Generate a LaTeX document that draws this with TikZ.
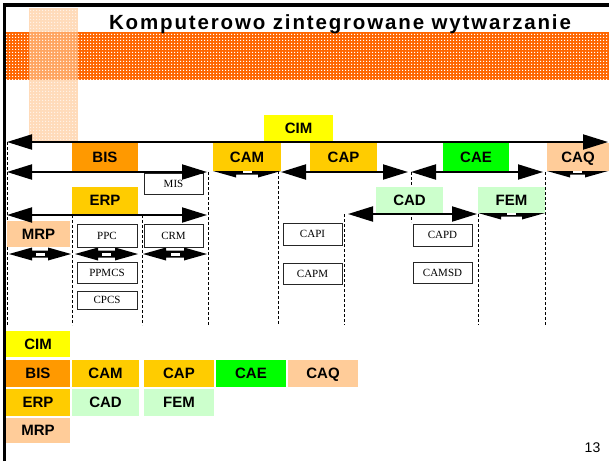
\documentclass[tikz,border=0pt]{standalone}
\usepackage{fontspec}
\setmainfont{Liberation Serif}
\newfontfamily\lsans{Liberation Sans}
\newfontfamily\ltitle[LetterSpace=9]{Liberation Sans}
\usetikzlibrary{arrows.meta,patterns}
\pgfdeclarepatternformonly{whitedots}{\pgfqpoint{0pt}{0pt}}{\pgfqpoint{3pt}{3pt}}{\pgfqpoint{3pt}{3pt}}{%
  \pgfpathrectangle{\pgfqpoint{0pt}{0pt}}{\pgfqpoint{1.5pt}{1.5pt}}%
  \pgfusepath{fill}}
\definecolor{cimy}{HTML}{FFFF00}
\definecolor{bisor}{HTML}{FF9900}
\definecolor{camy}{HTML}{FFCC00}
\definecolor{caeg}{HTML}{00FF00}
\definecolor{caqp}{HTML}{FFCC99}
\definecolor{cadg}{HTML}{CCFFCC}
\definecolor{bandor}{HTML}{FF6600}
\definecolor{bandlt}{HTML}{FFC896}
\tikzset{
  lbl/.style={inner sep=0pt, font=\lsans\bfseries\fontsize{15}{15}\selectfont, text=black, text height=10.7pt, text depth=0pt},
  sbox/.style={draw=black!85, line width=0.8pt, fill=white, inner sep=0pt, font=\fontsize{11}{11}\selectfont, text height=7.3pt, text depth=0pt},
  bigarrow/.style={line width=2pt, {Triangle[length=25pt,width=15pt]}-{Triangle[length=25pt,width=15pt]}},
  dashline/.style={line width=0.7pt, dash pattern=on 3pt off 2pt},
  pics/blockdbl/.style={code={
    \fill[black] (0,0) -- (23,-6.5) -- (23,-3.5) -- (#1-23,-3.5) -- (#1-23,-6.5) -- (#1,0)
      -- (#1-23,6.5) -- (#1-23,3.5) -- (23,3.5) -- (23,6.5) -- cycle;
    \fill[white] (#1/2-4.5,-1.5) rectangle (#1/2+4.5,1.5);
  }},
}
\begin{document}
\begin{tikzpicture}[x=1pt,y=-1pt]
\useasboundingbox (0,0) rectangle (609,461);
\fill[white] (0,0) rectangle (609,461);
% decorative bands
\fill[bandor] (5,32) rectangle (609,80);
\fill[pattern=whitedots, pattern color=white] (5,32) rectangle (609,80);
\begin{scope}[opacity=0.65]
\fill[bandlt] (29,8) rectangle (78,143);
\fill[pattern=whitedots, pattern color=white] (29,8) rectangle (78,143);
\end{scope}
% frame
\draw[line width=3.5pt] (4.5,461) -- (4.5,5) -- (609,5);
% title
\node[font=\ltitle\bfseries\fontsize{20.5}{21}\selectfont, anchor=base, inner sep=0pt] (title) at (340,29.5) {Komputerowo zintegrowane wytwarzanie};

% dashed separators
\draw[dashline] (7,142) -- (7,325);
\draw[dashline] (72,215) -- (72,325);
\draw[dashline] (142,215) -- (142,325);
\draw[dashline] (208,172) -- (208,325);
\draw[dashline] (278,171) -- (278,325);
\draw[dashline] (344,214) -- (344,325);
\draw[dashline] (411,172) -- (411,222);
\draw[dashline] (478,214) -- (478,325);
\draw[dashline] (545,172) -- (545,325);

% block double arrows (drawn under boxes)
\pic at (213,171) {blockdbl=68};
\pic at (547,171) {blockdbl=61};
\pic at (478,213) {blockdbl=67};
\pic at (9,254) {blockdbl=62};
\pic at (75,254) {blockdbl=63};
\pic at (143,254) {blockdbl=64};

% top boxes
\node[lbl, fill=cimy, minimum width=69pt, minimum height=27pt] (cim) at (298.5,128.5) {CIM};
\node[lbl, fill=bisor, minimum width=66pt, minimum height=28pt] (bis) at (105,157) {BIS};
\node[lbl, fill=camy, minimum width=68pt, minimum height=28pt] (cam) at (247,157) {CAM};
\node[lbl, fill=camy, minimum width=67pt, minimum height=28pt] (cap) at (343.5,157) {CAP};
\node[lbl, fill=caeg, minimum width=66pt, minimum height=28pt] (cae) at (476,157) {CAE};
\node[lbl, fill=caqp, minimum width=62pt, minimum height=28pt] (caq) at (578,157) {CAQ};
\node[lbl, fill=camy, minimum width=66pt, minimum height=27pt] (erp) at (105,200.5) {ERP};
\node[lbl, fill=cadg, minimum width=67pt, minimum height=26pt] (cad) at (409.5,200) {CAD};
\node[lbl, fill=cadg, minimum width=67pt, minimum height=26pt] (fem) at (511.5,200) {FEM};
\node[lbl, fill=caqp, minimum width=63pt, minimum height=26pt] (mrp) at (38.5,234) {MRP};

% small serif boxes
\node[sbox, minimum width=59pt, minimum height=21pt] (mis) at (173.5,183.5) {MIS};
\node[sbox, minimum width=60pt, minimum height=23pt] (ppc) at (107,235.5) {PPC};
\node[sbox, minimum width=59pt, minimum height=23pt] (crm) at (173.5,235.5) {CRM};
\node[sbox, minimum width=60pt, minimum height=21pt] (ppmcs) at (107,272.5) {PPMCS};
\node[sbox, minimum width=60pt, minimum height=18pt] (cpcs) at (107,300) {CPCS};
\node[sbox, minimum width=59pt, minimum height=22pt] (capi) at (312.5,234) {CAPI};
\node[sbox, minimum width=59pt, minimum height=21pt] (capm) at (312.5,273.5) {CAPM};
\node[sbox, minimum width=59pt, minimum height=22pt] (capd) at (442.5,235) {CAPD};
\node[sbox, minimum width=59pt, minimum height=21pt] (camsd) at (442.5,272.5) {CAMSD};

% big arrows
\coordinate (cimL) at (7,142);   \coordinate (cimR) at (608,142);
\coordinate (bisL) at (7,172);   \coordinate (bisR) at (207,172);
\coordinate (erpL) at (7,215);   \coordinate (erpR) at (207,215);
\coordinate (capL) at (281,172); \coordinate (capR) at (408,172);
\coordinate (caeL) at (411,172); \coordinate (caeR) at (543,172);
\coordinate (cadL) at (348,214); \coordinate (cadR) at (477,214);
\draw[bigarrow] (cimL) -- (cimR);
\draw[bigarrow] (bisL) -- (bisR);
\draw[bigarrow] (erpL) -- (erpR);
\draw[bigarrow] (capL) -- (capR);
\draw[bigarrow] (caeL) -- (caeR);
\draw[bigarrow] (cadL) -- (cadR);

% legend
\node[lbl, fill=cimy, minimum width=64pt, minimum height=26pt] (lcim) at (38,344) {CIM};
\node[lbl, fill=bisor, minimum width=64pt, minimum height=27pt] (lbis) at (38,373.5) {BIS};
\node[lbl, fill=camy, minimum width=67pt, minimum height=27pt] (lcam) at (105.5,373.5) {CAM};
\node[lbl, fill=camy, minimum width=70pt, minimum height=27pt] (lcap) at (179,373.5) {CAP};
\node[lbl, fill=caeg, minimum width=70pt, minimum height=27pt] (lcae) at (251,373.5) {CAE};
\node[lbl, fill=caqp, minimum width=70pt, minimum height=27pt] (lcaq) at (323,373.5) {CAQ};
\node[lbl, fill=camy, minimum width=64pt, minimum height=27pt] (lerp) at (38,402.5) {ERP};
\node[lbl, fill=cadg, minimum width=67pt, minimum height=27pt] (lcad) at (105.5,402.5) {CAD};
\node[lbl, fill=cadg, minimum width=70pt, minimum height=27pt] (lfem) at (179,402.5) {FEM};
\node[lbl, fill=caqp, minimum width=64pt, minimum height=25pt] (lmrp) at (38,430.5) {MRP};

% page number
\node[font=\lsans\fontsize{14}{14}\selectfont, inner sep=0pt] (pgnum) at (592.5,448) {13};
\end{tikzpicture}
\end{document}
